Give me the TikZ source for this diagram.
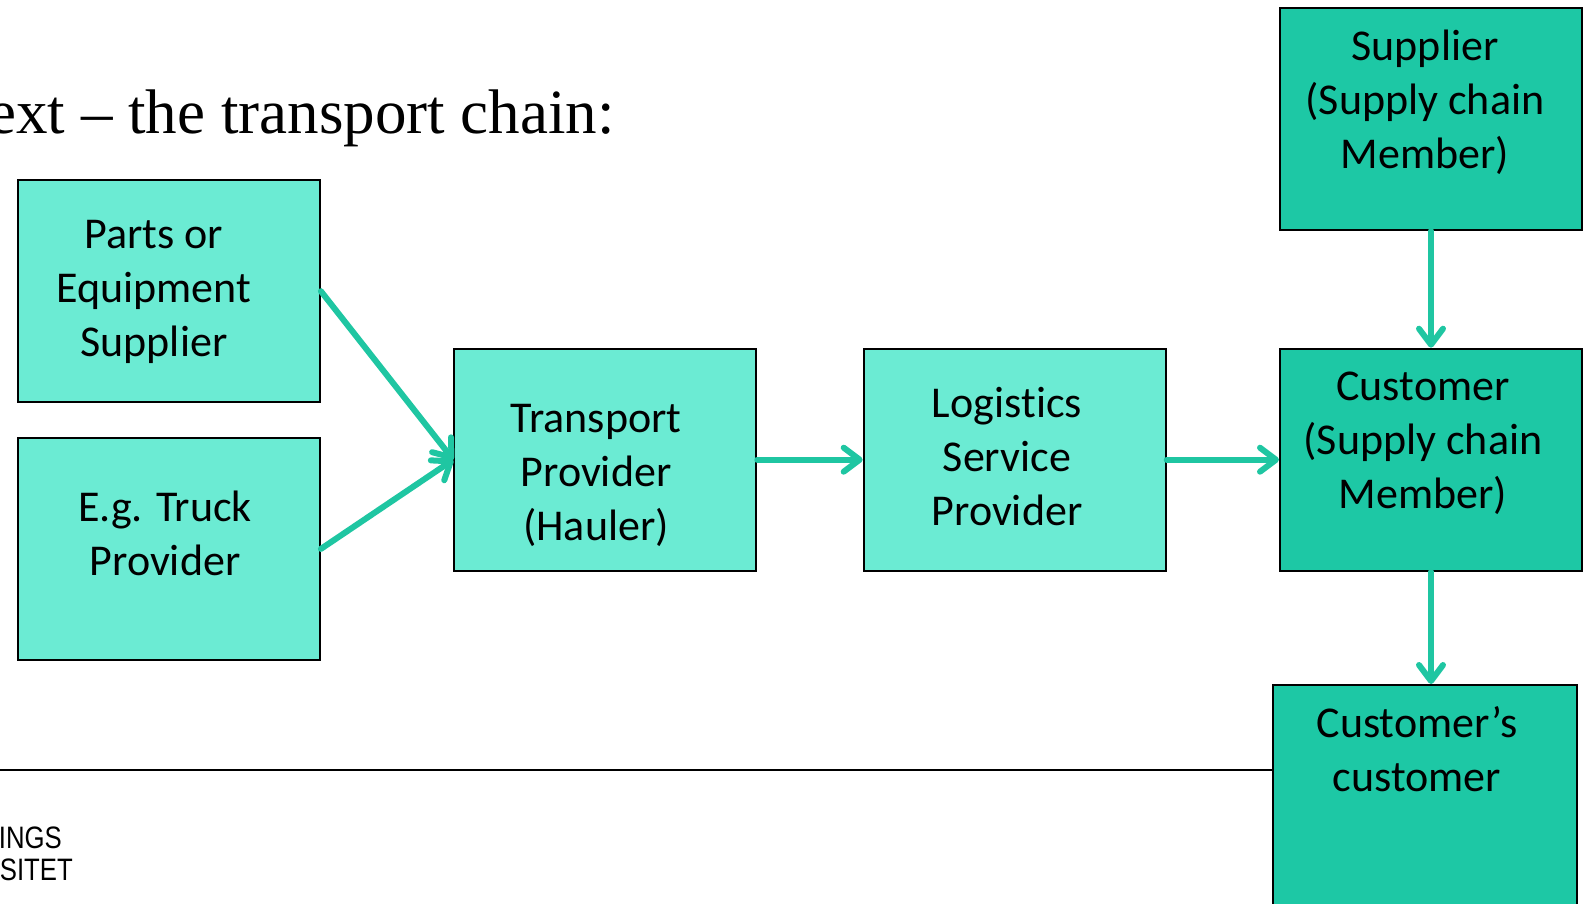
\documentclass[tikz,border=0pt]{standalone}
\usepackage{fontspec}
\setmainfont{Carlito}[Ligatures={NoCommon,NoRare}]
\newfontfamily\titlefont{Liberation Serif}
\newfontfamily\logofont{Liberation Sans}
\usetikzlibrary{arrows.meta}
\definecolor{boxlight}{HTML}{6BEBD3}
\definecolor{boxdark}{HTML}{1DC8A5}
\definecolor{flow}{HTML}{1FC6A2}
\begin{document}
\begin{tikzpicture}[x=1pt,y=-1pt,
  box/.style={draw=black, line width=2pt, rectangle, inner sep=0pt,
              minimum width=302pt, minimum height=222pt},
  lightbox/.style={box, fill=boxlight},
  darkbox/.style={box, fill=boxdark},
  boxtext/.style={font=\fontsize{44}{54}\selectfont, align=center, inner sep=0pt},
  flowarrow/.style={draw=flow, line width=6pt, line cap=round,
                    -{Straight Barb[round,length=16pt,width=24pt]}}
]
\useasboundingbox (0,0) rectangle (1591,904);

% heading and logo fragments
\node[anchor=base east, inner sep=0pt, font=\titlefont\fontsize{63}{70}\selectfont]
  (title) at (615,134) {ext – the transport chain:};
\node[anchor=base east, inner sep=0pt] (logoA) at (62,848)
  {\logofont\fontsize{31}{31}\selectfont\scalebox{0.83}[1]{INGS}};
\node[anchor=base east, inner sep=0pt] (logoB) at (73,880)
  {\logofont\fontsize{31}{31}\selectfont\scalebox{0.83}[1]{SITET}};

% footer rule
\coordinate (ruleL) at (0,770);

% boxes
\node[lightbox] (parts) at (168.9,291.2) {};
\node[lightbox] (truck) at (168.9,548.9) {};
\node[lightbox] (transport) at (605.3,459.7) {};
\node[lightbox] (logistics) at (1014.7,459.7) {};
\node[darkbox] (customer) at (1431,459.7) {};
\node[darkbox] (supplier) at (1431,119) {};
\node[darkbox, minimum width=304pt, minimum height=315pt] (cc) at (1424.7,842.5) {};

\draw[line width=1.5pt] (ruleL) -- (ruleL -| cc.west);

% box texts
\node[boxtext] (partsT) at (154,292) {Parts or\\Equipment\\Supplier};
\node[boxtext] (truckT) at (165,533.5) {E.g. Truck\\Provider};
\node[boxtext] (transportT) at (596,475) {Transport\\Provider\\(Hauler)};
\node[boxtext] (logisticsT) at (1007,456.6) {Logis\kern0pt tics\\Service\\Provider};
\node[boxtext] (customerT) at (1423,443.4) {Customer\\(Supply chain\\Member)};
\node[boxtext] (supplierT) at (1425,102) {Supplier\\(Supply chain\\Member)};
\node[boxtext] (ccT) at (1417,749) {Customer’s\\customer};

% flow connectors
\draw[flowarrow] (parts.east) -- (transport.west);
\draw[flowarrow] (truck.east) -- (transport.west);
\draw[flowarrow] (transport.east) -- (logistics.west);
\draw[flowarrow] (logistics.east) -- (customer.west);
\draw[flowarrow] (supplier.south) -- (customer.north);
\draw[flowarrow] (customer.south) -- (customer.south |- cc.north);
\end{tikzpicture}
\end{document}
